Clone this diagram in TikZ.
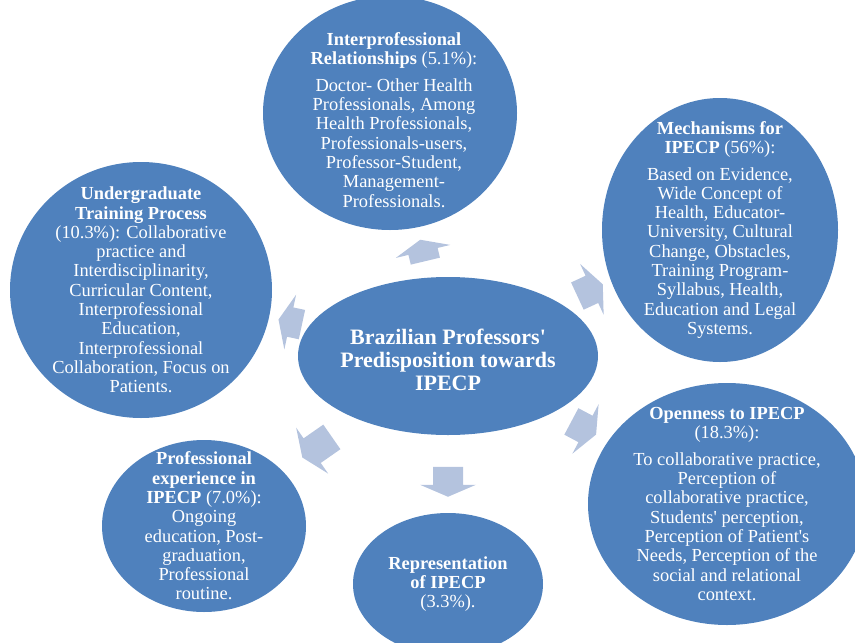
\documentclass[tikz,border=0pt]{standalone}
\usepackage{fontspec}
\setmainfont{Liberation Serif}
\usetikzlibrary{shapes.geometric}
\definecolor{bubbleblue}{HTML}{4F81BD}
\definecolor{arrowblue}{HTML}{B4C3DE}

\tikzset{
	bubble/.style={ellipse, fill=bubbleblue, inner sep=0pt},
	bubbletext/.style={text=white, align=center, inner sep=0pt,
		font=\fontsize{18.4}{19.3}\selectfont},
	pics/outarrow/.style={code={
		\fill[arrowblue] (-#1/2,-15) -- (#1/2-12,-15) -- (#1/2-12,-28) -- (#1/2,0)
			-- (#1/2-12,28) -- (#1/2-12,15) -- (-#1/2,15) -- cycle;
	}}
}

\begin{document}
\begin{tikzpicture}[x=1pt,y=-1pt]
	\useasboundingbox (0,0) rectangle (855,643);
	\clip (0,0) rectangle (855,643);

	% bubbles
	\node[bubble, minimum width=300pt, minimum height=158pt] (c) at (448,356) {};
	\node[bubble, minimum width=254pt, minimum height=234pt] (rel) at (390,113) {};
	\node[bubble, minimum width=236pt, minimum height=264pt] (mech) at (720,230) {};
	\node[bubble, minimum width=278pt, minimum height=242pt] (open) at (727,504) {};
	\node[bubble, minimum width=190pt, minimum height=142pt] (rep) at (448,584) {};
	\node[bubble, minimum width=204pt, minimum height=172pt] (prof) at (204,526) {};
	\node[bubble, minimum width=262pt, minimum height=256pt] (under) at (141,290) {};

	% texts
	\node[bubbletext, font=\fontsize{22}{23}\selectfont\bfseries] (c-t) at (448,360)
		{Brazilian Professors\textquotesingle\\ Predisposition towards\\ IPECP};
	\node[bubbletext] (rel-t) at (394,120)
		{\textbf{Interprofessional}\\ \textbf{Relationships} (5.1\%):\\[7pt]
		Doctor- Other Health\\ Professionals, Among\\ Health Professionals,\\
		Professionals-users,\\ Professor-Student,\\ Management-\\ Professionals.};
	\node[bubbletext] (mech-t) at (mech)
		{\textbf{Mechanisms for}\\ \textbf{IPECP} (56\%):\\[7pt]
		Based on Evidence,\\ Wide Concept of\\ Health, Educator-\\ University, Cultural\\
		Change, Obstacles,\\ Training Program-\\ Syllabus, Health,\\
		Education and Legal\\ Systems.};
	\node[bubbletext] (open-t) at (open)
		{\textbf{Openness to IPECP}\\ (18.3\%):\\[7pt]
		To collaborative practice,\\ Perception of\\ collaborative practice,\\
		Students\textquotesingle{} perception,\\ Perception of Patient\textquotesingle s\\
		Needs, Perception of the\\ social and relational\\ context.};
	\node[bubbletext] (rep-t) at (rep)
		{\textbf{Representation}\\ \textbf{of IPECP}\\ (3.3\%).};
	\node[bubbletext] (prof-t) at (prof)
		{\textbf{Professional}\\ \textbf{experience in}\\ \textbf{IPECP} (7.0\%):\\
		Ongoing\\ education, Post-\\ graduation,\\ Professional\\ routine.};
	\node[bubbletext] (under-t) at (under)
		{\textbf{Undergraduate}\\ \textbf{Training Process}\\ (10.3\%): Collaborative\\
		practice and\\ Interdisciplinarity,\\ Curricular Content,\\ Interprofessional\\
		Education,\\ Interprofessional\\ Collaboration, Focus on\\ Patients.};

	% arrows
	\path (c) -- (rel) pic[pos=0.54, sloped, allow upside down] {outarrow=22};
	\path (c) -- (mech) pic[pos=0.585, sloped, allow upside down] {outarrow=28};
	\path (c) -- (open) pic[pos=0.55, sloped, allow upside down] {outarrow=28};
	\path (c) -- (rep) pic[pos=0.60, sloped, allow upside down] {outarrow=30};
	\path (c) -- (prof) pic[pos=0.54, sloped, allow upside down] {outarrow=36};
	\path (c) -- (under) pic[pos=0.47, sloped, allow upside down] {outarrow=24};
\end{tikzpicture}
\end{document}
